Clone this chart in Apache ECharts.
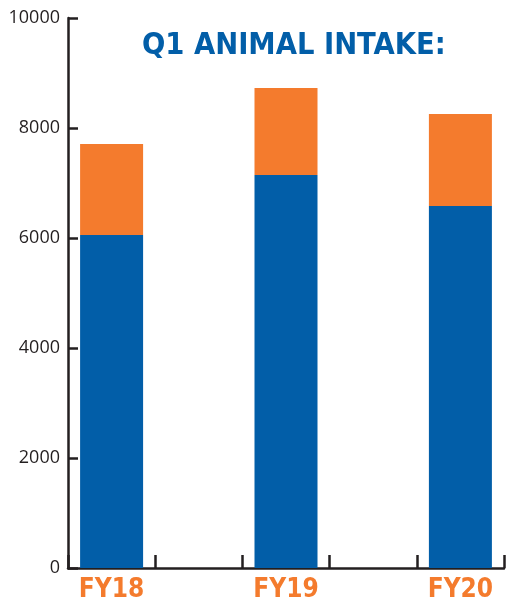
<!DOCTYPE html>
<html>
<head>
<meta charset="utf-8">
<script src="https://cdn.jsdelivr.net/npm/echarts@6/dist/echarts.min.js"></script>
<style>
html,body{margin:0;padding:0;background:#fff;}
#c{width:511px;height:603px;}
</style>
</head>
<body>
<div id="c"></div>
<script>
var categories = ['FY18', 'FY19', 'FY20'];
var blueValues = [6055, 7145, 6582];
var orangeValues = [1655, 1582, 1673];
var yTicks = [0, 2000, 4000, 6000, 8000, 10000];
var titleText = 'Q1 ANIMAL INTAKE:';

// interleave spacer slots between the fiscal years
var axisCats = [], blueData = [], orangeData = [];
categories.forEach(function (c, i) {
  if (i > 0) { axisCats.push(''); blueData.push(null); orangeData.push(null); }
  axisCats.push(c); blueData.push(blueValues[i]); orangeData.push(orangeValues[i]);
});

var chart = echarts.init(document.getElementById('c'), null, {renderer: 'canvas'});
chart.setOption({
  animation: false,
  backgroundColor: '#ffffff',
  title: {
    text: titleText,
    left: 137, top: 26,
    textStyle: {
      fontFamily: 'DejaVu Sans Condensed', fontWeight: 'bold',
      fontSize: 30.5, color: '#025ea8'
    }
  },
  grid: {left: 68, right: 7, top: 18, bottom: 35},
  xAxis: {
    type: 'category',
    data: axisCats,
    boundaryGap: true,
    axisLine: {lineStyle: {color: '#231f20', width: 2.5}},
    axisTick: {show: true, inside: true, length: 13, lineStyle: {color: '#231f20', width: 2.5}},
    axisLabel: {
      interval: 0, margin: 9,
      color: '#f47b2d', fontFamily: 'DejaVu Sans Condensed', fontWeight: 'bold', fontSize: 26
    },
    splitLine: {show: false}
  },
  yAxis: {
    type: 'value',
    min: yTicks[0], max: yTicks[yTicks.length - 1], interval: yTicks[1] - yTicks[0],
    axisLine: {show: true, lineStyle: {color: '#231f20', width: 2.5}},
    axisTick: {show: true, inside: true, length: 10, lineStyle: {color: '#231f20', width: 2.5}},
    axisLabel: {
      margin: 8, color: '#231f20', fontFamily: 'Open Sans', fontSize: 18,
      formatter: function (v) { return String(v); }
    },
    splitLine: {show: false}
  },
  series: [
    {type: 'bar', stack: 'a', data: blueData, barWidth: 63, itemStyle: {color: '#025ea8'}},
    {type: 'bar', stack: 'a', data: orangeData, barWidth: 63, itemStyle: {color: '#f47b2d'}}
  ]
});
</script>
</body>
</html>
